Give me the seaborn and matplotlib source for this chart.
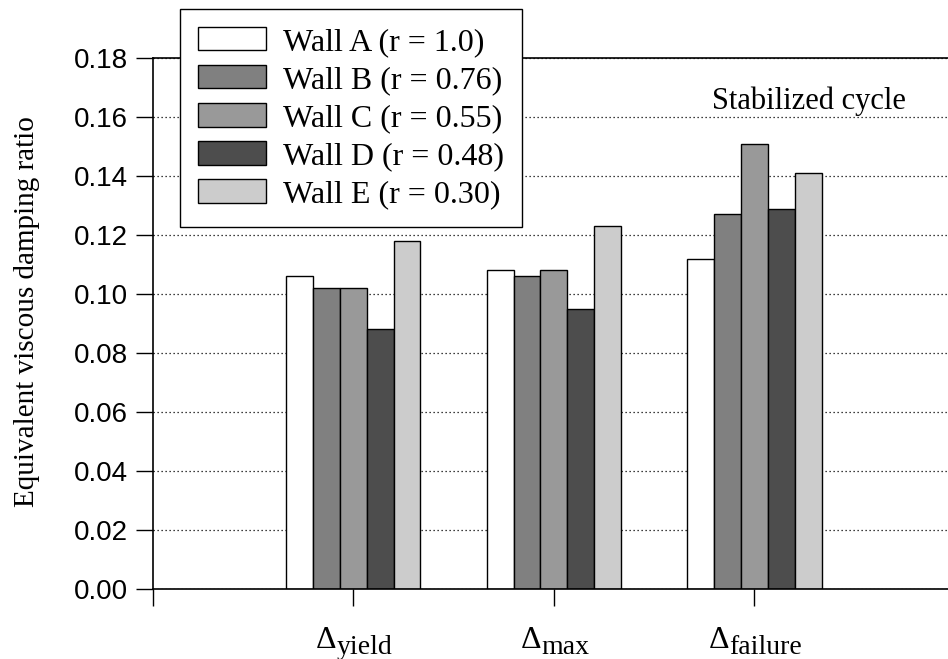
import matplotlib
matplotlib.use("Agg")
import matplotlib.pyplot as plt
import seaborn as sns
import pandas as pd

# Damping ratios per wall at each drift level (stabilized cycle)
levels = ["yield", "max", "failure"]
walls = ["Wall A (r = 1.0)", "Wall B (r = 0.76)", "Wall C (r = 0.55)",
         "Wall D (r = 0.48)", "Wall E (r = 0.30)"]
wall_a = [0.106, 0.108, 0.112]
wall_b = [0.102, 0.106, 0.127]
wall_c = [0.102, 0.108, 0.151]
wall_d = [0.088, 0.095, 0.129]
wall_e = [0.118, 0.123, 0.141]
colors = ["#ffffff", "#808080", "#999999", "#4d4d4d", "#cccccc"]
y_ticks = [0.00, 0.02, 0.04, 0.06, 0.08, 0.10, 0.12, 0.14, 0.16, 0.18]

series = [wall_a, wall_b, wall_c, wall_d, wall_e]
df = pd.DataFrame({
    "level": [lv for s in series for lv in levels],
    "wall": [w for w, s in zip(walls, series) for _ in s],
    "ratio": [v for s in series for v in s],
})

sns.set_theme(style="white")
plt.rcParams["text.color"] = "black"

W, H = 948, 659
fig = plt.figure(figsize=(W / 100, H / 100), dpi=100)
ax = fig.add_axes([152.7 / W, 1 - 588.7 / H, 802.4 / W, (588.7 - 58.3) / H])

sns.barplot(data=df, x="level", y="ratio", hue="wall", order=levels,
            hue_order=walls, palette=colors, width=0.668, gap=0,
            edgecolor="black", linewidth=1.0, saturation=1, ax=ax,
            errorbar=None)

ax.set_xlim(-1, 3)
ax.set_ylim(0, 0.18)
ax.set_xticks([-1, 0, 1, 2])
ax.set_xticklabels([""] * 4)
ax.set_yticks(y_ticks)
ax.set_yticklabels([f"{t:.2f}" for t in y_ticks], fontsize=20,
                   family="Liberation Sans")
ax.set_xlabel("")
ax.set_ylabel("Equivalent viscous damping ratio", fontsize=21,
              family="Liberation Serif", color="black")
ax.yaxis.set_label_coords((40 - 152.7) / 802.4, (588.7 - 312) / 530.4)

ax.tick_params(axis="both", direction="out", length=12, width=1.0,
               color="black", labelcolor="black", pad=6)
ax.tick_params(left=True, bottom=True)

ax.set_axisbelow(True)
ax.yaxis.grid(True, linestyle=(0, (1, 2.2)), color="black", linewidth=0.9)
ax.xaxis.grid(False)

for side in ["left", "bottom", "top"]:
    ax.spines[side].set_visible(True)
    ax.spines[side].set_color("black")
    ax.spines[side].set_linewidth(1.2)
ax.spines["right"].set_visible(False)

ax.text(2.27, 0.1655, "Stabilized cycle", fontsize=22,
        family="Liberation Serif", ha="center", va="center", color="black")

# Category labels: a large Delta followed by a nearly full-size subscript
renderer = fig.canvas.get_renderer()
for i, sub in enumerate(levels):
    tick_px = ax.transData.transform((i, 0))[0]
    d = fig.text(0, (H - 648) / H, "\u0394", fontsize=23,
                 family="Liberation Serif", va="baseline", ha="left")
    s = fig.text(0, (H - 654) / H, sub, fontsize=20,
                 family="Liberation Serif", va="baseline", ha="left")
    wd = d.get_window_extent(renderer).width
    ws = s.get_window_extent(renderer).width
    x0 = tick_px - (wd + ws) / 2 + 1
    d.set_x(x0 / W)
    s.set_x((x0 + wd) / W)

handles, labels = ax.get_legend_handles_labels()
leg = ax.legend(handles, labels, loc="upper left",
                bbox_to_anchor=(180 / W, 1 - 9 / H),
                bbox_transform=fig.transFigure,
                borderaxespad=0, fancybox=False, framealpha=1, edgecolor="black",
                prop={"family": "Liberation Serif", "size": 23},
                handlelength=2.12, handleheight=0.75, handletextpad=0.55,
                labelspacing=0.26, borderpad=0.56, title=None)
leg.get_frame().set_linewidth(1.0)
for t in leg.get_texts():
    t.set_color("black")

fig.savefig("out.png", dpi=100)
